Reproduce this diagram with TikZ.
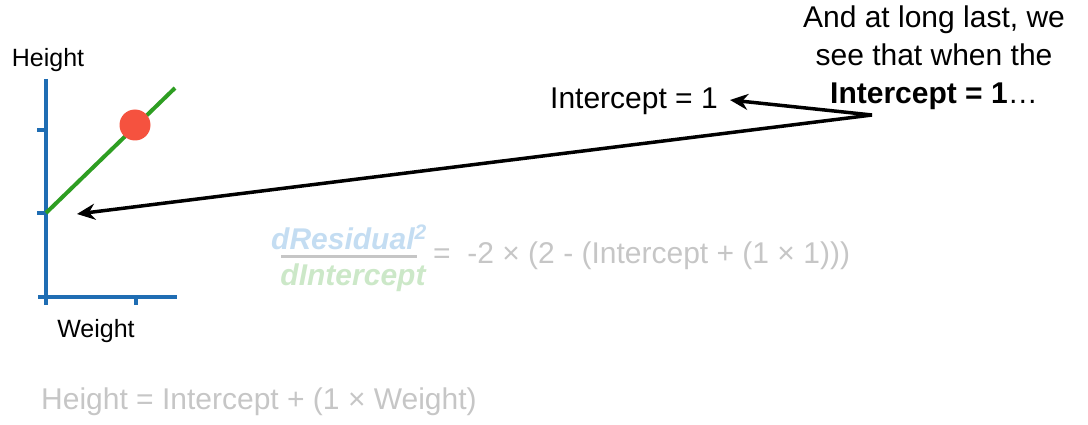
\documentclass[tikz,border=0pt]{standalone}
\usepackage{fontspec}
\setmainfont{Liberation Sans}
\usetikzlibrary{arrows.meta}
\definecolor{axisblue}{HTML}{1F6DB3}
\definecolor{linegreen}{HTML}{2E9E22}
\definecolor{dotred}{HTML}{F5523F}
\definecolor{fadegray}{HTML}{C6C6C6}
\definecolor{fadeblue}{HTML}{C4DDF2}
\definecolor{fadegreen}{HTML}{CCE8C8}
\tikzset{
  axis/.style={draw=axisblue, line width=4.5pt},
  fit line/.style={draw=linegreen, line width=4pt},
  pointer/.style={draw=black, line width=3.5pt, -{Stealth[length=18pt,width=16pt]}},
  label/.style={font=\fontsize{25}{30}\selectfont, inner sep=0pt},
  big/.style={font=\fontsize{30}{38}\selectfont, inner sep=0pt},
  faded/.style={font=\fontsize{30}{34}\selectfont, text=fadegray, inner sep=0pt},
  fracpart/.style={font=\fontsize{30}{34}\selectfont\itshape\bfseries, inner sep=0pt, anchor=base},
}
\begin{document}
\begin{tikzpicture}[x=1pt,y=-1pt]
\useasboundingbox (0,0) rectangle (1088,425);
% axes
\coordinate (ytop) at (46,79);
\coordinate (ybot) at (46,305);
\coordinate (xl) at (38,297);
\coordinate (xr) at (177,297);
\draw[axis] (ytop) -- (ybot);
\draw[axis] (xl) -- (xr);
\draw[axis] (37,130) -- (46,130);
\draw[axis] (37,213) -- (46,213);
\draw[axis] (136,297) -- (136,305);
% fitted line
\coordinate (l0) at (46,213);
\coordinate (l1) at (175,88);
\draw[fit line] (l0) -- (l1);
\node[circle, fill=dotred, minimum size=31pt, inner sep=0pt] (dot) at (135,125) {};
% axis labels
\node[label] (hlab) at (48,60) {Height};
\node[label] (wlab) at (96,331) {Weight};
% texts
\node[big, align=center] (note) at (934,58) {And at long last, we\\see that when the\\\textbf{Intercept = 1}\ldots};
\node[big, anchor=east] (icpt) at (718,101) {Intercept = 1};
\coordinate (hub) at (872,115);
\coordinate (tipA) at (730,100);
\coordinate (tipB) at (77,214);
\draw[pointer] (hub) -- (tipA);
\draw[pointer] (hub) -- (tipB);
% derivative
\node[fracpart, text=fadeblue] (num) at (349,249) {dResidual\textsuperscript{2}};
\node[fracpart, text=fadegreen] (den) at (353,285) {dIntercept};
\draw[draw=fadegray, line width=3pt] (281,256) -- (417,256);
\node[faded, anchor=west] (rhs) at (433,256) {=\ \ -2 × (2 - (Intercept + (1 × 1)))};
% model
\node[faded, anchor=west] (model) at (41,402) {Height = Intercept + (1 × Weight)};
\end{tikzpicture}
\end{document}
